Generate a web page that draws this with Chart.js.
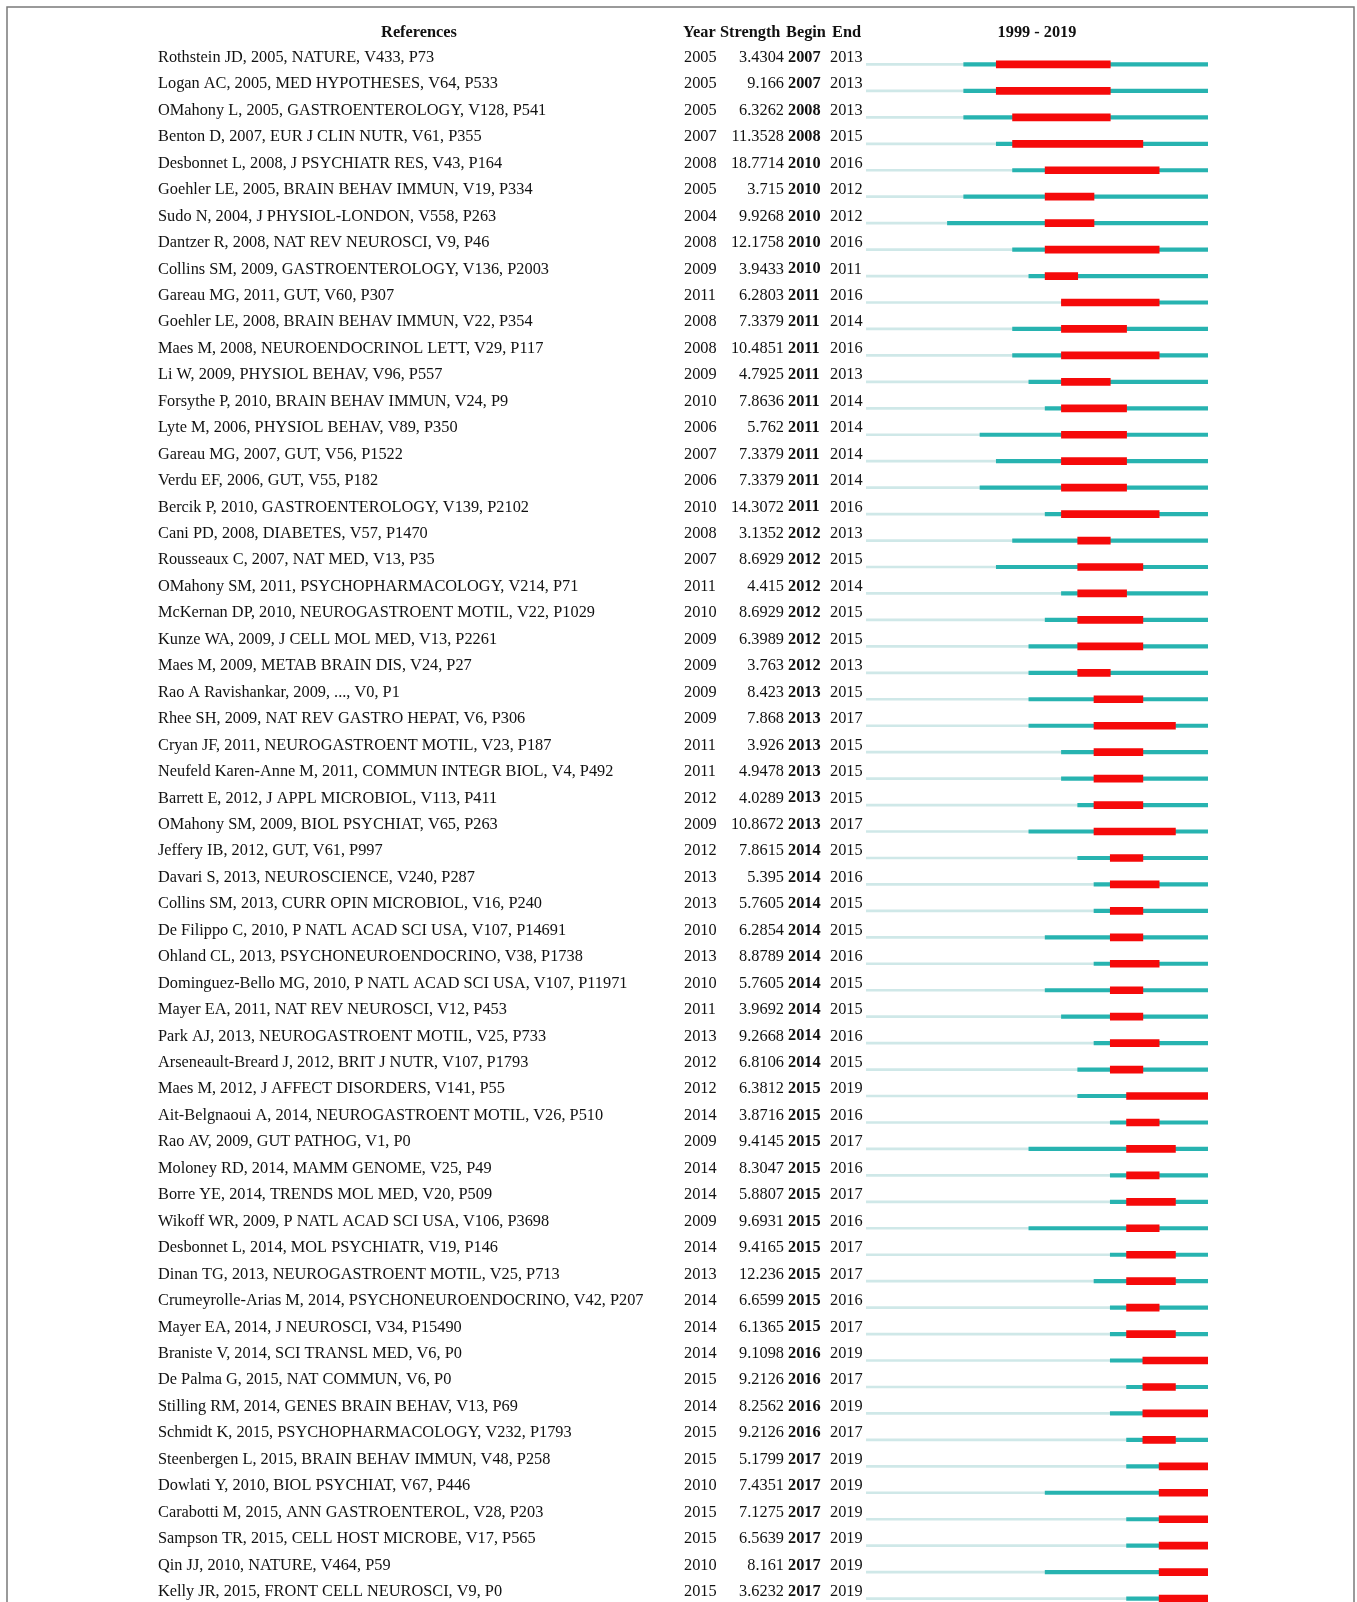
<!DOCTYPE html>
<html>
<head>
<meta charset="utf-8">
<script src="https://cdn.jsdelivr.net/npm/chart.js@4.4.1/dist/chart.umd.min.js"></script>
<style>
  html, body { margin: 0; padding: 0; background: #fff; }
  canvas { display: block; }
</style>
</head>
<body>
<canvas id="burst" width="1357" height="1602"></canvas>
<script>
const references = [
  'Rothstein JD, 2005, NATURE, V433, P73',
  'Logan AC, 2005, MED HYPOTHESES, V64, P533',
  'OMahony L, 2005, GASTROENTEROLOGY, V128, P541',
  'Benton D, 2007, EUR J CLIN NUTR, V61, P355',
  'Desbonnet L, 2008, J PSYCHIATR RES, V43, P164',
  'Goehler LE, 2005, BRAIN BEHAV IMMUN, V19, P334',
  'Sudo N, 2004, J PHYSIOL-LONDON, V558, P263',
  'Dantzer R, 2008, NAT REV NEUROSCI, V9, P46',
  'Collins SM, 2009, GASTROENTEROLOGY, V136, P2003',
  'Gareau MG, 2011, GUT, V60, P307',
  'Goehler LE, 2008, BRAIN BEHAV IMMUN, V22, P354',
  'Maes M, 2008, NEUROENDOCRINOL LETT, V29, P117',
  'Li W, 2009, PHYSIOL BEHAV, V96, P557',
  'Forsythe P, 2010, BRAIN BEHAV IMMUN, V24, P9',
  'Lyte M, 2006, PHYSIOL BEHAV, V89, P350',
  'Gareau MG, 2007, GUT, V56, P1522',
  'Verdu EF, 2006, GUT, V55, P182',
  'Bercik P, 2010, GASTROENTEROLOGY, V139, P2102',
  'Cani PD, 2008, DIABETES, V57, P1470',
  'Rousseaux C, 2007, NAT MED, V13, P35',
  'OMahony SM, 2011, PSYCHOPHARMACOLOGY, V214, P71',
  'McKernan DP, 2010, NEUROGASTROENT MOTIL, V22, P1029',
  'Kunze WA, 2009, J CELL MOL MED, V13, P2261',
  'Maes M, 2009, METAB BRAIN DIS, V24, P27',
  'Rao A Ravishankar, 2009, ..., V0, P1',
  'Rhee SH, 2009, NAT REV GASTRO HEPAT, V6, P306',
  'Cryan JF, 2011, NEUROGASTROENT MOTIL, V23, P187',
  'Neufeld Karen-Anne M, 2011, COMMUN INTEGR BIOL, V4, P492',
  'Barrett E, 2012, J APPL MICROBIOL, V113, P411',
  'OMahony SM, 2009, BIOL PSYCHIAT, V65, P263',
  'Jeffery IB, 2012, GUT, V61, P997',
  'Davari S, 2013, NEUROSCIENCE, V240, P287',
  'Collins SM, 2013, CURR OPIN MICROBIOL, V16, P240',
  'De Filippo C, 2010, P NATL ACAD SCI USA, V107, P14691',
  'Ohland CL, 2013, PSYCHONEUROENDOCRINO, V38, P1738',
  'Dominguez-Bello MG, 2010, P NATL ACAD SCI USA, V107, P11971',
  'Mayer EA, 2011, NAT REV NEUROSCI, V12, P453',
  'Park AJ, 2013, NEUROGASTROENT MOTIL, V25, P733',
  'Arseneault-Breard J, 2012, BRIT J NUTR, V107, P1793',
  'Maes M, 2012, J AFFECT DISORDERS, V141, P55',
  'Ait-Belgnaoui A, 2014, NEUROGASTROENT MOTIL, V26, P510',
  'Rao AV, 2009, GUT PATHOG, V1, P0',
  'Moloney RD, 2014, MAMM GENOME, V25, P49',
  'Borre YE, 2014, TRENDS MOL MED, V20, P509',
  'Wikoff WR, 2009, P NATL ACAD SCI USA, V106, P3698',
  'Desbonnet L, 2014, MOL PSYCHIATR, V19, P146',
  'Dinan TG, 2013, NEUROGASTROENT MOTIL, V25, P713',
  'Crumeyrolle-Arias M, 2014, PSYCHONEUROENDOCRINO, V42, P207',
  'Mayer EA, 2014, J NEUROSCI, V34, P15490',
  'Braniste V, 2014, SCI TRANSL MED, V6, P0',
  'De Palma G, 2015, NAT COMMUN, V6, P0',
  'Stilling RM, 2014, GENES BRAIN BEHAV, V13, P69',
  'Schmidt K, 2015, PSYCHOPHARMACOLOGY, V232, P1793',
  'Steenbergen L, 2015, BRAIN BEHAV IMMUN, V48, P258',
  'Dowlati Y, 2010, BIOL PSYCHIAT, V67, P446',
  'Carabotti M, 2015, ANN GASTROENTEROL, V28, P203',
  'Sampson TR, 2015, CELL HOST MICROBE, V17, P565',
  'Qin JJ, 2010, NATURE, V464, P59',
  'Kelly JR, 2015, FRONT CELL NEUROSCI, V9, P0'
];

const pubYear = [
  2005, 2005, 2005, 2007, 2008, 2005, 2004, 2008, 2009, 2011,
  2008, 2008, 2009, 2010, 2006, 2007, 2006, 2010, 2008, 2007,
  2011, 2010, 2009, 2009, 2009, 2009, 2011, 2011, 2012, 2009,
  2012, 2013, 2013, 2010, 2013, 2010, 2011, 2013, 2012, 2012,
  2014, 2009, 2014, 2014, 2009, 2014, 2013, 2014, 2014, 2014,
  2015, 2014, 2015, 2015, 2010, 2015, 2015, 2010, 2015
];

const strength = [
  '3.4304', '9.166', '6.3262', '11.3528', '18.7714', '3.715', '9.9268', '12.1758', '3.9433', '6.2803',
  '7.3379', '10.4851', '4.7925', '7.8636', '5.762', '7.3379', '7.3379', '14.3072', '3.1352', '8.6929',
  '4.415', '8.6929', '6.3989', '3.763', '8.423', '7.868', '3.926', '4.9478', '4.0289', '10.8672',
  '7.8615', '5.395', '5.7605', '6.2854', '8.8789', '5.7605', '3.9692', '9.2668', '6.8106', '6.3812',
  '3.8716', '9.4145', '8.3047', '5.8807', '9.6931', '9.4165', '12.236', '6.6599', '6.1365', '9.1098',
  '9.2126', '8.2562', '9.2126', '5.1799', '7.4351', '7.1275', '6.5639', '8.161', '3.6232'
];

const beginYear = [
  2007, 2007, 2008, 2008, 2010, 2010, 2010, 2010, 2010, 2011,
  2011, 2011, 2011, 2011, 2011, 2011, 2011, 2011, 2012, 2012,
  2012, 2012, 2012, 2012, 2013, 2013, 2013, 2013, 2013, 2013,
  2014, 2014, 2014, 2014, 2014, 2014, 2014, 2014, 2014, 2015,
  2015, 2015, 2015, 2015, 2015, 2015, 2015, 2015, 2015, 2016,
  2016, 2016, 2016, 2017, 2017, 2017, 2017, 2017, 2017
];

const endYear = [
  2013, 2013, 2013, 2015, 2016, 2012, 2012, 2016, 2011, 2016,
  2014, 2016, 2013, 2014, 2014, 2014, 2014, 2016, 2013, 2015,
  2014, 2015, 2015, 2013, 2015, 2017, 2015, 2015, 2015, 2017,
  2015, 2016, 2015, 2015, 2016, 2015, 2015, 2016, 2015, 2019,
  2016, 2017, 2016, 2017, 2016, 2017, 2017, 2016, 2017, 2019,
  2017, 2019, 2017, 2019, 2019, 2019, 2019, 2019, 2019
];

const firstYear = 1999;
const lastYear = 2019;

const rows = references.map((_, i) => i);

const SERIF = '"Liberation Serif", "Times New Roman", serif';

// text columns drawn next to the bars, rows follow the y scale
const tablePlugin = {
  id: 'burstTable',
  beforeDraw(chart) {
    const ctx = chart.ctx;
    ctx.save();
    ctx.fillStyle = '#ffffff';
    ctx.fillRect(0, 0, chart.width, chart.height);
    ctx.strokeStyle = '#7a7a7a';
    ctx.lineWidth = 1.5;
    ctx.strokeRect(7, 7, chart.width - 10, chart.height + 20);
    ctx.restore();
  },
  afterDraw(chart) {
    const ctx = chart.ctx;
    const ys = chart.scales.y;
    const xs = chart.scales.x;
    const sx = 0.96;

    const put = (txt, x, y, bold, align) => {
      ctx.font = (bold ? 'bold ' : '') + '17px ' + SERIF;
      let w = ctx.measureText(txt).width * sx;
      let left = x;
      if (align === 'right') left = x - w;
      if (align === 'center') left = x - w / 2;
      ctx.save();
      ctx.translate(left, y);
      ctx.scale(sx, 1);
      ctx.fillText(txt, 0, 0);
      ctx.restore();
    };

    ctx.save();
    ctx.fillStyle = '#111111';
    ctx.textBaseline = 'middle';

    const headY = 33;
    put('References', 419, headY, true, 'center');
    put('Year', 683, headY, true);
    put('Strength', 720, headY, true);
    put('Begin', 786, headY, true);
    put('End', 832, headY, true);
    const mid = (xs.getPixelForValue(firstYear) + xs.getPixelForValue(lastYear + 1)) / 2;
    put(firstYear + ' - ' + lastYear, mid, headY, true, 'center');

    rows.forEach(i => {
      const y = ys.getPixelForValue(i) - 7;
      put(references[i], 158, y, false);
      put(String(pubYear[i]), 684, y, false);
      put(strength[i], 784, y, false, 'right');
      put(String(beginYear[i]), 788, y, true);
      put(String(endYear[i]), 830, y, false);
    });
    ctx.restore();
  }
};

const ctx = document.getElementById('burst').getContext('2d');
new Chart(ctx, {
  type: 'bar',
  data: {
    datasets: [
      {
        label: 'burst',
        data: rows.map(i => ({ x: [beginYear[i], endYear[i] + 1], y: i })),
        backgroundColor: '#f50a0a',
        barThickness: 7,
        order: 0
      },
      {
        label: 'cited',
        data: rows.map(i => ({ x: [pubYear[i], lastYear + 1], y: i })),
        backgroundColor: '#27b3b0',
        barThickness: 3.5,
        order: 1
      },
      {
        label: 'before',
        data: rows.map(i => ({ x: [firstYear, pubYear[i]], y: i })),
        backgroundColor: '#cfe8e8',
        barThickness: 2,
        order: 2
      }
    ]
  },
  options: {
    indexAxis: 'y',
    responsive: false,
    animation: false,
    layout: { padding: { left: 866, right: 149, top: 38, bottom: 0 } },
    datasets: { bar: { grouped: false, borderWidth: 0 } },
    scales: {
      x: { type: 'linear', min: firstYear, max: lastYear + 1, display: false, offset: false, grace: 0 },
      y: { type: 'linear', min: -1, max: 58.13, reverse: true, display: false, offset: false, grace: 0 }
    },
    plugins: {
      legend: { display: false },
      tooltip: { enabled: false }
    }
  },
  plugins: [tablePlugin]
});
</script>
</body>
</html>
